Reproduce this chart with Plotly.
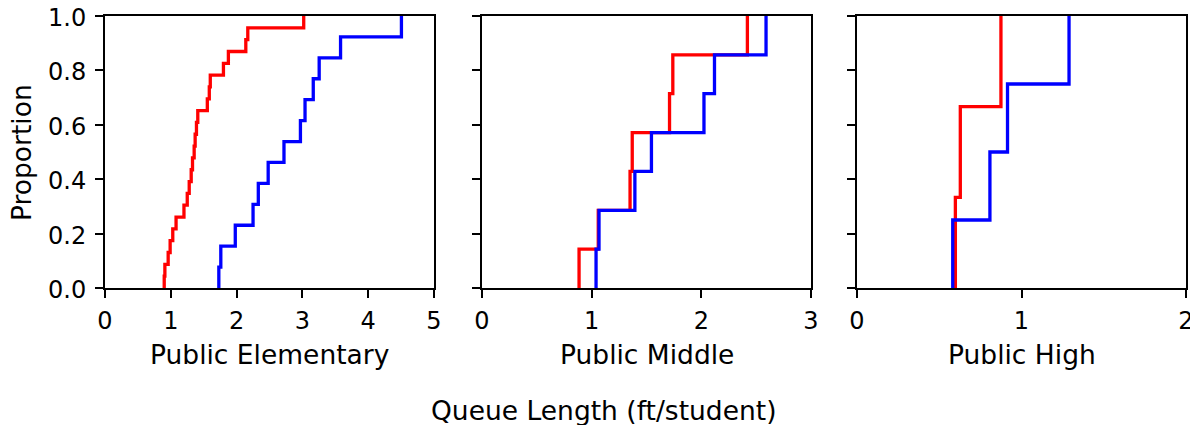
import plotly.graph_objects as go

# ---- data (sorted sample values for each ECDF) ----
panels = ["Public Elementary", "Public Middle", "Public High"]

elem_red = [0.90, 0.91, 0.96, 0.99, 1.03, 1.08, 1.20, 1.25, 1.28, 1.31, 1.33, 1.355,
            1.37, 1.39, 1.41, 1.555, 1.585, 1.60, 1.80, 1.875, 2.14, 2.17, 3.02]
elem_blue = [1.73, 1.76, 1.98, 2.25, 2.33, 2.48, 2.72, 2.97, 3.04, 3.165, 3.255, 3.58, 4.505]

mid_red = [0.885, 1.06, 1.35, 1.37, 1.71, 1.74, 2.42]
mid_blue = [1.04, 1.067, 1.394, 1.545, 2.024, 2.12, 2.59]

high_red = [0.598, 0.628, 0.875]
high_blue = [0.582, 0.808, 0.915, 1.289]

x_max = [5, 3, 2]
y_ticks = [0.0, 0.2, 0.4, 0.6, 0.8, 1.0]
y_tick_text = ["0.0", "0.2", "0.4", "0.6", "0.8", "1.0"]
x_title = "Queue Length (ft/student)"
y_title = "Proportion"

series = [(elem_red, elem_blue), (mid_red, mid_blue), (high_red, high_blue)]

# The page body has an 8px margin, so the figure is drawn 8px in from the
# top-left corner; geometry below is given in window pixels and shifted.
OFF = 8
W, H = 1198 - OFF, 425 - OFF
FONT = "DejaVu Sans"
FS_TICK = 24
FS_LAB = 26.5

px_left = [105, 482, 857]
px_width = 329
px_top, px_bottom = 16, 288


def fx(px):
    return (px - OFF) / W


def fy(py):
    return 1 - (py - OFF) / H


def ecdf(vals):
    v = sorted(vals)
    n = len(v)
    xs = [v[0]] + v
    ys = [0.0] + [(i + 1) / n for i in range(n)]
    return xs, ys


fig = go.Figure()
for i, (red, blue) in enumerate(series):
    ax = "" if i == 0 else str(i + 1)
    for vals, col in ((red, "#ff0000"), (blue, "#0000ff")):
        xs, ys = ecdf(vals)
        fig.add_trace(go.Scatter(x=xs, y=ys, mode="lines", line_shape="hv",
                                 line=dict(color=col, width=3.3),
                                 xaxis="x" + ax, yaxis="y" + ax,
                                 showlegend=False, hoverinfo="skip"))

layout = dict(
    width=W, height=H, template="none",
    paper_bgcolor="white", plot_bgcolor="white",
    margin=dict(l=0, r=0, t=0, b=0),
    font=dict(family=FONT, size=FS_TICK, color="black"),
    showlegend=False,
)

ydom = [fy(px_bottom), fy(px_top)]
for i in range(3):
    ax = "" if i == 0 else str(i + 1)
    xdom = [fx(px_left[i]), fx(px_left[i] + px_width)]
    layout["xaxis" + ax] = dict(
        domain=xdom, range=[0, x_max[i]], anchor="y" + ax,
        tickmode="array", tickvals=list(range(x_max[i] + 1)),
        ticktext=[str(t) for t in range(x_max[i] + 1)],
        ticks="outside", ticklen=8, tickwidth=1.6, tickcolor="black",
        showline=True, linecolor="black", linewidth=1.8, mirror=True,
        showgrid=False, zeroline=False, automargin=False,
        tickfont=dict(family=FONT, size=FS_TICK, color="black"),
        ticklabelstandoff=2, ticklabeloverflow="allow",
    )
    layout["yaxis" + ax] = dict(
        domain=ydom, range=[0, 1], anchor="x" + ax,
        tickmode="array", tickvals=y_ticks,
        showticklabels=False,
        ticks="outside", ticklen=8, tickwidth=1.6, tickcolor="black",
        showline=True, linecolor="black", linewidth=1.8, mirror=True,
        showgrid=False, zeroline=False, automargin=False,
    )

annotations = []
# y tick labels of the first panel, placed on the y axis scale
for v, t in zip(y_ticks, y_tick_text):
    annotations.append(dict(text=t, x=fx(87), y=v, xref="paper", yref="y",
                            xanchor="right", yanchor="middle", yshift=-2,
                            showarrow=False, borderpad=0,
                            font=dict(family=FONT, size=FS_TICK, color="black")))
for i, name in enumerate(panels):
    cx = fx(px_left[i] + px_width / 2)
    annotations.append(dict(text=name, x=cx, y=fy(354), xref="paper", yref="paper",
                            xanchor="center", yanchor="middle", showarrow=False,
                            font=dict(family=FONT, size=FS_LAB, color="black")))
annotations.append(dict(text=x_title, x=fx(603), y=fy(410), xref="paper", yref="paper",
                        xanchor="center", yanchor="middle", showarrow=False, borderpad=0,
                        font=dict(family=FONT, size=FS_LAB, color="black")))
annotations.append(dict(text=y_title, x=fx(21), y=fy(153), xref="paper", yref="paper",
                        xanchor="center", yanchor="middle", showarrow=False, textangle=-90,
                        borderpad=0,
                        font=dict(family=FONT, size=FS_LAB, color="black")))
layout["annotations"] = annotations

fig.update_layout(**layout)
fig.write_html("out.html")
